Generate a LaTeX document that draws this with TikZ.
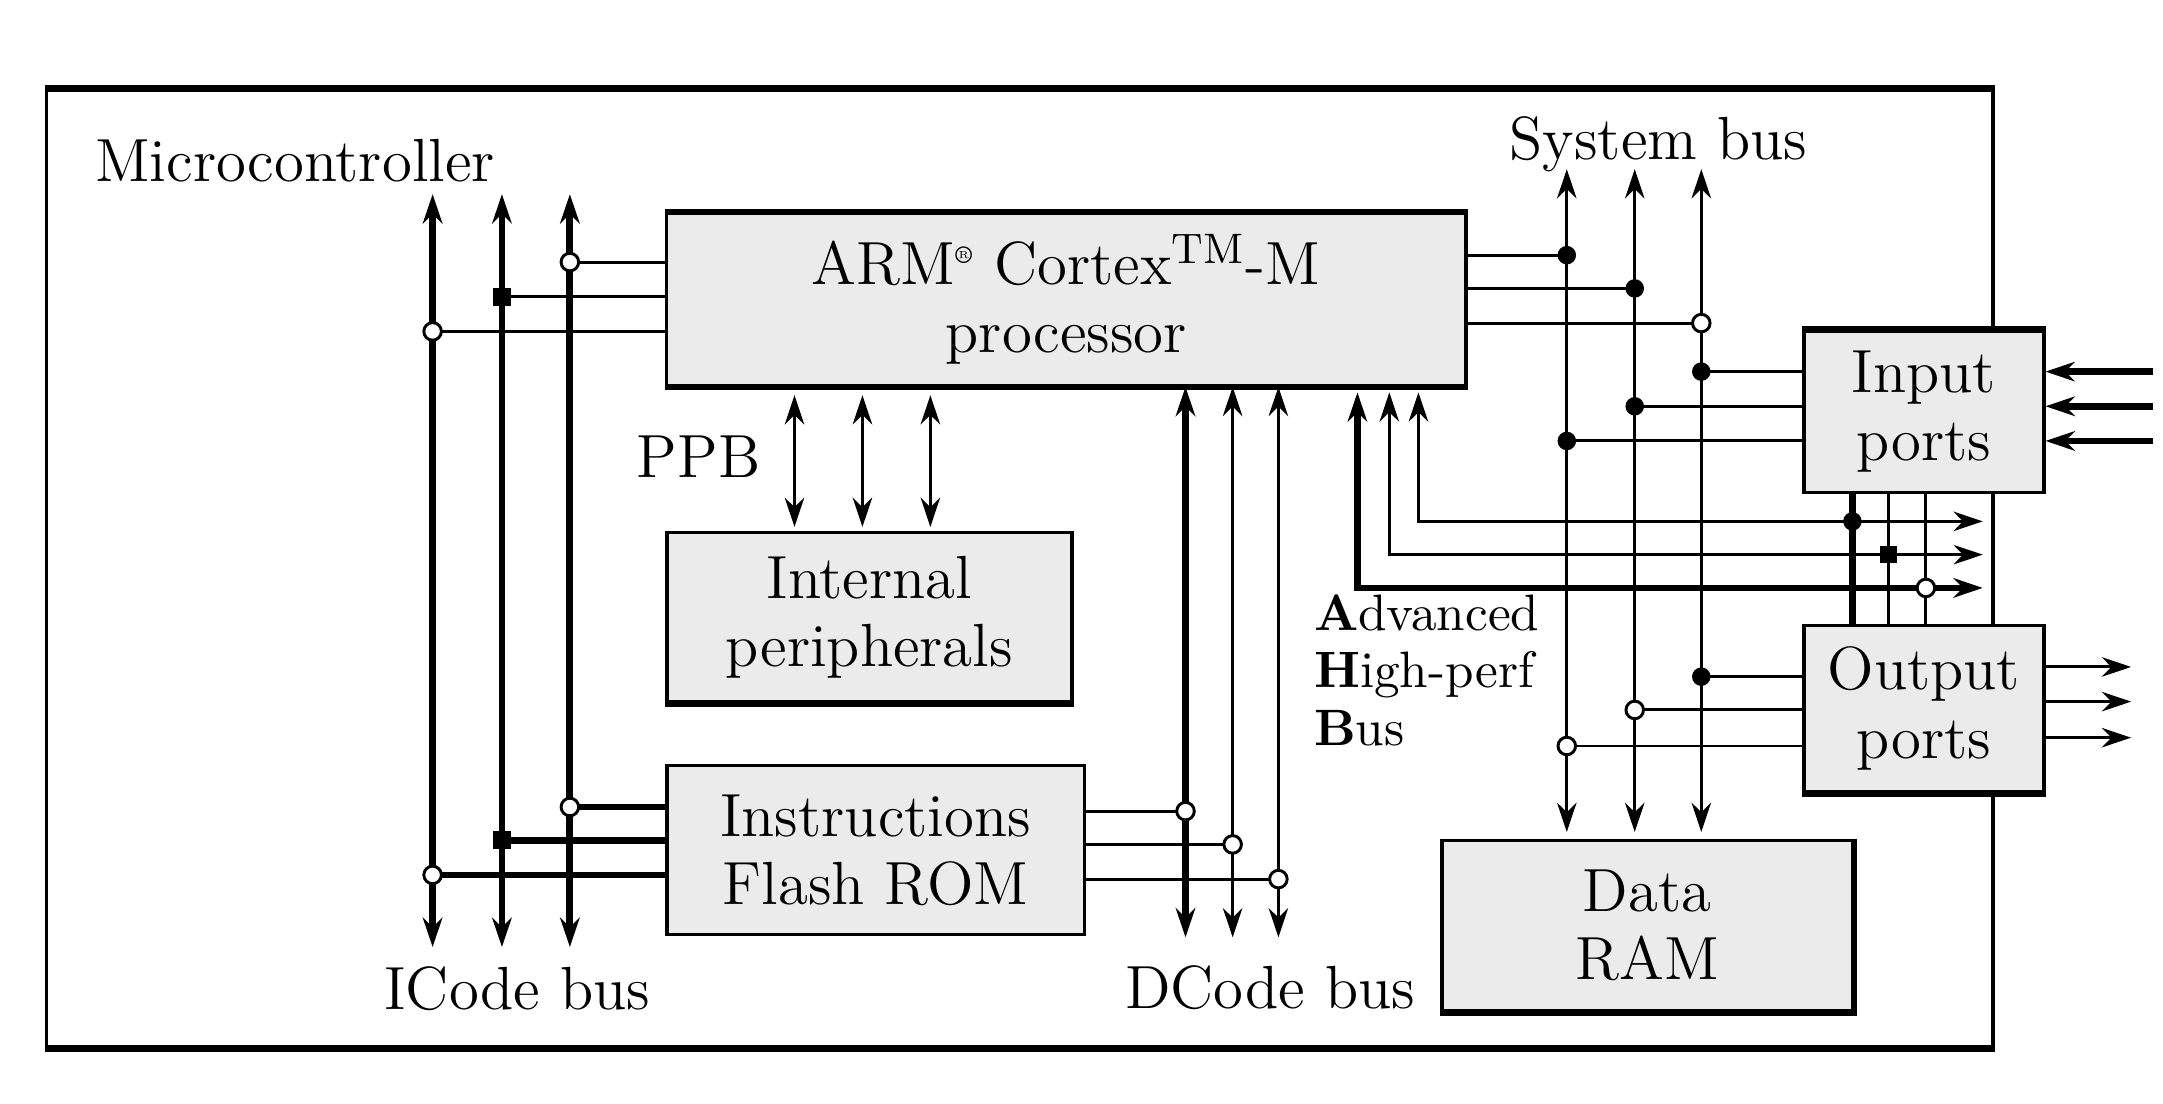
\documentclass[tikz,border=0pt]{standalone}
\usetikzlibrary{arrows.meta}
\definecolor{boxgray}{RGB}{235,235,235}
\pgfdeclarelayer{back}
\pgfdeclarelayer{wires}
\pgfsetlayers{back,wires,main}
\tikzset{
  block/.style={draw, line width=0.7pt, fill=boxgray, align=center, inner sep=0pt},
  boldedge/.style={line width=1.3pt},
  lbl/.style={inner sep=0pt},
  wire/.style={line width=0.6pt},
  fatwire/.style={line width=1.4pt},
  jring/.style={circle, draw, fill=white, line width=0.6pt, inner sep=0pt, minimum size=3.6pt},
  jdot/.style={circle, fill=black, inner sep=0pt, minimum size=3.8pt},
  jsq/.style={rectangle, fill=black, inner sep=0pt, minimum size=3.6pt},
  >={Stealth[length=6pt,width=4pt]}
}
\begin{document}
\begin{tikzpicture}[x=0.01cm, y=-0.01cm, font=\fontsize{12.5}{14}\selectfont]
    \useasboundingbox (0,0) rectangle (1560,795.5);

    % Microcontroller frame
    \begin{pgfonlayer}{back}
    \node (MCU) [draw, line width=0.7pt, fill=white, minimum width=14.03cm, minimum height=6.9cm, inner sep=0pt] at (735.5,410) {};
    \draw[boldedge] (MCU.north west) -- (MCU.north east);
    \draw[boldedge] (MCU.south west) -- (MCU.south east);
    \end{pgfonlayer}
    \node (MCUlabel) [lbl, anchor=base west] at (68,131) {Microcontroller};

    % Blocks
    \node (ARM) [block, minimum width=5.76cm, minimum height=1.24cm] at (769,216) {ARM\textsuperscript{\tiny\textregistered} Cortex\textsuperscript{TM}-M\\processor};
    \node (PER) [block, minimum width=2.92cm, minimum height=1.22cm] at (627,445) {Internal\\peripherals};
    \node (ROM) [block, minimum width=3.01cm, minimum height=1.22cm] at (631.5,613) {Instructions\\Flash ROM};
    \node (RAM) [block, minimum width=2.96cm, minimum height=1.23cm] at (1188,667.5) {Data\\RAM};
    \node (IN) [block, minimum width=1.73cm, minimum height=1.16cm] at (1387.5,297) {Input\\ports};
    \node (OUT) [block, minimum width=1.73cm, minimum height=1.20cm] at (1387.5,511) {Output\\ports};
    \draw[boldedge] (ARM.north west) -- (ARM.north east);
    \draw[boldedge] (ARM.south west) -- (ARM.south east);
    \draw[boldedge] (PER.south west) -- (PER.south east);
    \draw[boldedge] (RAM.north east) -- (RAM.south east) -- (RAM.south west);
    \draw[boldedge] (IN.north west) -- (IN.north east);
    \draw[boldedge] (OUT.south west) -- (OUT.south east);

    % Bus labels
    \node (SYSlabel) [lbl, anchor=base] at (1196,115) {System bus};
    \node (IClabel) [lbl, anchor=base] at (373,728) {ICode bus};
    \node (DClabel) [lbl, anchor=base] at (916,727) {DCode bus};
    \node (PPBlabel) [lbl, anchor=base east] at (549,344) {PPB};
    \node (AHBlabel) [lbl, anchor=north west, align=left, font=\fontsize{10.5}{11.8}\selectfont] at (947,428) {\textbf{A}dvanced\\\textbf{H}igh-perf\\\textbf{B}us};

    % ICode bus
    \coordinate (IC1t) at (312,140); \coordinate (IC1b) at (312,683);
    \coordinate (IC2t) at (362,140); \coordinate (IC2b) at (362,683);
    \coordinate (IC3t) at (411,140); \coordinate (IC3b) at (411,683);
    \node (JA1) [jring] at (411,189) {};
    \node (JA2) [jsq] at (362,214) {};
    \node (JA3) [jring] at (312,239) {};
    \node (JR1) [jring] at (411,582) {};
    \node (JR2) [jsq] at (362,606) {};
    \node (JR3) [jring] at (312,631) {};

    % DCode bus
    \coordinate (DC1t) at (855,279); \coordinate (DC1b) at (855,676);
    \coordinate (DC2t) at (889,279); \coordinate (DC2b) at (889,676);
    \coordinate (DC3t) at (922,279); \coordinate (DC3b) at (922,676);
    \node (JD1) [jring] at (855,585) {};
    \node (JD2) [jring] at (889,609) {};
    \node (JD3) [jring] at (922,634) {};

    % PPB
    \coordinate (PP1t) at (573,285); \coordinate (PP1b) at (573,380);
    \coordinate (PP2t) at (622,285); \coordinate (PP2b) at (622,380);
    \coordinate (PP3t) at (671,285); \coordinate (PP3b) at (671,380);

    % Advanced High-perf Bus
    \coordinate (AH1t) at (979,283);  \coordinate (AH1e) at (1430,424);
    \coordinate (AH2t) at (1002,283); \coordinate (AH2e) at (1430,400);
    \coordinate (AH3t) at (1023,283); \coordinate (AH3e) at (1430,376);
    \node (JP1) [jdot] at (1336,376) {};
    \node (JP2) [jsq] at (1362,400) {};
    \node (JP3) [jring] at (1389,424) {};

    % System bus
    \coordinate (SB1t) at (1130,122); \coordinate (SB1b) at (1130,600);
    \coordinate (SB2t) at (1179,122); \coordinate (SB2b) at (1179,600);
    \coordinate (SB3t) at (1227,122); \coordinate (SB3b) at (1227,600);
    \node (JS1) [jdot] at (1130,184) {};
    \node (JS2) [jdot] at (1179,208) {};
    \node (JS3) [jring] at (1227,233) {};
    \node (JI1) [jdot] at (1227,268) {};
    \node (JI2) [jdot] at (1179,293) {};
    \node (JI3) [jdot] at (1130,318) {};
    \node (JO1) [jdot] at (1227,488) {};
    \node (JO2) [jring] at (1179,512) {};
    \node (JO3) [jring] at (1130,538) {};

    % External pins
    \coordinate (I1) at (1553,268); \coordinate (I2) at (1553,293); \coordinate (I3) at (1553,318);
    \coordinate (O1) at (1537,481); \coordinate (O2) at (1537,506); \coordinate (O3) at (1537,532);

    \begin{pgfonlayer}{wires}
    \draw[fatwire, <->] (IC1t) -- (IC1b);
    \draw[fatwire, <->] (IC2t) -- (IC2b);
    \draw[fatwire, <->] (IC3t) -- (IC3b);
    \draw[wire] (JA1.center) -- (JA1 -| ARM.west);
    \draw[wire] (JA2.center) -- (JA2 -| ARM.west);
    \draw[wire] (JA3.center) -- (JA3 -| ARM.west);
    \draw[fatwire] (JR1.center) -- (JR1 -| ROM.west);
    \draw[fatwire] (JR2.center) -- (JR2 -| ROM.west);
    \draw[fatwire] (JR3.center) -- (JR3 -| ROM.west);

    \draw[fatwire, <->] (DC1t) -- (DC1b);
    \draw[wire, <->] (DC2t) -- (DC2b);
    \draw[wire, <->] (DC3t) -- (DC3b);
    \draw[wire] (JD1 -| ROM.east) -- (JD1.center);
    \draw[wire] (JD2 -| ROM.east) -- (JD2.center);
    \draw[wire] (JD3 -| ROM.east) -- (JD3.center);

    \draw[wire, <->] (PP1t) -- (PP1b);
    \draw[wire, <->] (PP2t) -- (PP2b);
    \draw[wire, <->] (PP3t) -- (PP3b);

    \draw[fatwire, <->] (AH1t) |- (AH1e);
    \draw[wire, <->] (AH2t) |- (AH2e);
    \draw[wire, <->] (AH3t) |- (AH3e);
    \draw[fatwire] (IN.south -| JP1) -- (OUT.north -| JP1);
    \draw[wire] (IN.south -| JP2) -- (OUT.north -| JP2);
    \draw[wire] (IN.south -| JP3) -- (OUT.north -| JP3);

    \draw[wire, <->] (SB1t) -- (SB1b);
    \draw[wire, <->] (SB2t) -- (SB2b);
    \draw[wire, <->] (SB3t) -- (SB3b);
    \draw[wire] (JS1 -| ARM.east) -- (JS1.center);
    \draw[wire] (JS2 -| ARM.east) -- (JS2.center);
    \draw[wire] (JS3 -| ARM.east) -- (JS3.center);
    \draw[wire] (JI1.center) -- (JI1 -| IN.west);
    \draw[wire] (JI2.center) -- (JI2 -| IN.west);
    \draw[wire] (JI3.center) -- (JI3 -| IN.west);
    \draw[wire] (JO1.center) -- (JO1 -| OUT.west);
    \draw[wire] (JO2.center) -- (JO2 -| OUT.west);
    \draw[wire] (JO3.center) -- (JO3 -| OUT.west);

    \draw[fatwire, ->] (I1) -- (I1 -| IN.east);
    \draw[fatwire, ->] (I2) -- (I2 -| IN.east);
    \draw[fatwire, ->] (I3) -- (I3 -| IN.east);
    \draw[wire, ->] (O1 -| OUT.east) -- (O1);
    \draw[wire, ->] (O2 -| OUT.east) -- (O2);
    \draw[wire, ->] (O3 -| OUT.east) -- (O3);
    \end{pgfonlayer}
\end{tikzpicture}
\end{document}
